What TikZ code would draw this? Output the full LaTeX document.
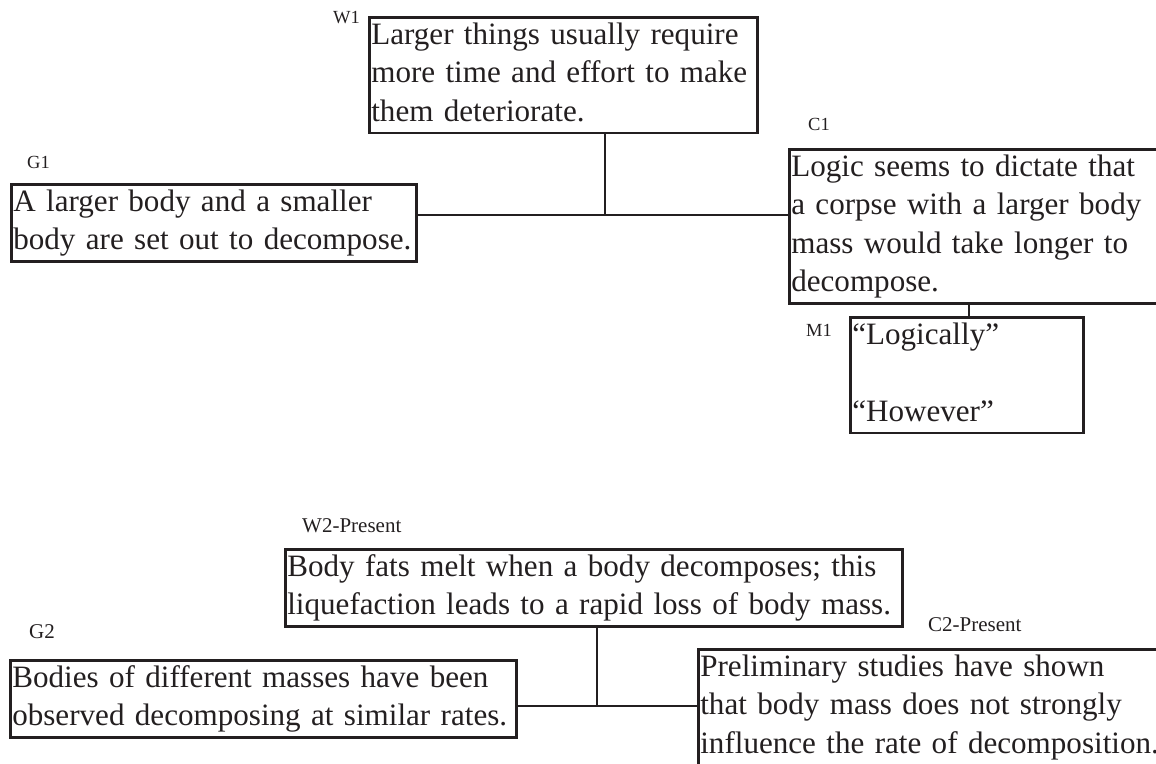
\documentclass[tikz,border=0pt]{standalone}
\usepackage{fontspec}
\setmainfont{Liberation Serif}
\definecolor{ink}{HTML}{231F20}
% one unbreakable line of box text
\newcommand\boxline[1]{\strut\mbox{#1}}
\tikzset{
  claim/.style={draw=ink, line width=2.6pt, anchor=north west, inner xsep=2pt,
    inner ysep=0pt, align=left, text=ink, text width=#1,
    font=\fontsize{31.1}{38.5}\selectfont},
  tag/.style={anchor=base west, inner sep=0pt, text=ink,
    font=\fontsize{18.5}{20}\selectfont},
  tagbig/.style={tag, font=\fontsize{21}{23}\selectfont},
  link/.style={draw=ink, line width=2.6pt},
}
\begin{document}
\begin{tikzpicture}[x=1pt, y=-1pt]
  \useasboundingbox (0,0) rectangle (1156,763);
  \clip (0,0) rectangle (1156,763);

  % first argument: ground, warrant, claim and marker
  \node[claim=384] (W1) at (368,16)
    {\boxline{Larger things usually require}\\
     \boxline{more time and effort to make}\\
     \boxline{them deteriorate.}};
  \node[claim=401] (G1) at (10,183)
    {\boxline{A larger body and a smaller}\\
     \boxline{body are set out to decompose.}};
  \node[claim=396] (C1) at (788,148)
    {\boxline{Logic seems to dictate that}\\
     \boxline{a corpse with a larger body}\\
     \boxline{mass would take longer to}\\
     \boxline{decompose.}};
  \node[claim=229] (M1) at (849,316)
    {\boxline{“Logically”}\\
     \strut\\
     \boxline{“However”}};

  \node[tag] (tW1) at (333,23) {W1};
  \node[tag] (tG1) at (27,168) {G1};
  \node[tag] (tC1) at (808,130) {C1};
  \node[tag] (tM1) at (806,336) {M1};

  \coordinate (j1) at (605,215);
  \coordinate (k1) at (969,300);
  \draw[link] (W1.south -| j1) -- (j1);
  \draw[link] (G1.east |- j1) -- (C1.west |- j1);
  \draw[link] (C1.south -| k1) -- (M1.north -| k1);

  % second argument
  \node[claim=613] (W2) at (284,548)
    {\boxline{Body fats melt when a body decomposes; this}\\
     \boxline{liquefaction leads to a rapid loss of body mass.}};
  \node[claim=502] (G2) at (9,659)
    {\boxline{Bodies of different masses have been}\\
     \boxline{observed decomposing at similar rates.}};
  \node[claim=479] (C2) at (697,648)
    {\boxline{Preliminary studies have shown}\\
     \boxline{that body mass does not strongly}\\
     \boxline{influence the rate of decomposition.}\rule[-20pt]{0pt}{1pt}};

  \node[tagbig] (tW2) at (302,532) {W2-Present};
  \node[tagbig] (tG2) at (29,638) {G2};
  \node[tagbig] (tC2) at (928,631) {C2-Present};

  \coordinate (j2) at (597,706);
  \draw[link] (W2.south -| j2) -- (j2);
  \draw[link] (G2.east |- j2) -- (C2.west |- j2);
\end{tikzpicture}
\end{document}
